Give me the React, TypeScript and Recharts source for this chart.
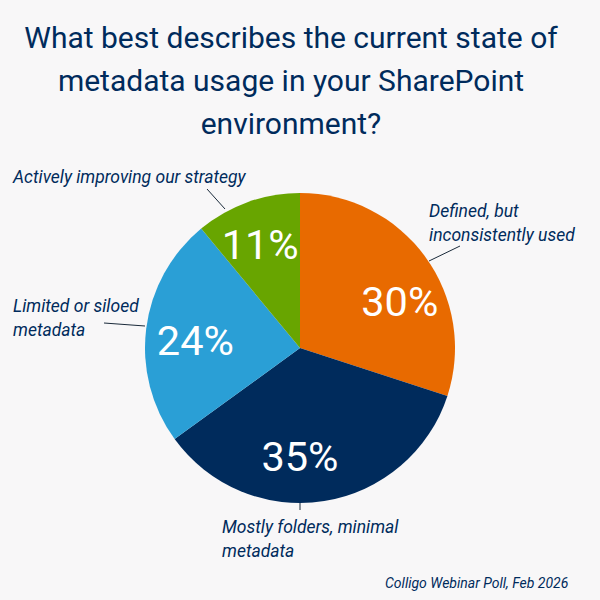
import React from 'react';
import { PieChart, Pie, Cell, Customized } from 'recharts';

const categories = ['Defined, but inconsistently used', 'Mostly folders, minimal metadata', 'Limited or siloed metadata', 'Actively improving our strategy'];
const shares = [30, 35, 24, 11];
const colors = ['#e86a00', '#002b5c', '#2a9fd6', '#68a500'];
const titleLines = ['What best describes the current state of', 'metadata usage in your SharePoint', 'environment?'];

const navy = '#002b5c';
const font = 'Roboto, sans-serif';
const data = categories.map((name, i) => ({ name, value: shares[i] }));

// annotation labels sit by hand around the pie
const notes = [
  { lines: ['Defined, but', 'inconsistently used'], x: 429, y: 217, from: [429, 261], to: [460, 246] },
  { lines: ['Mostly folders, minimal', 'metadata'], x: 222, y: 533, from: [300, 485], to: [300, 510] },
  { lines: ['Limited or siloed', 'metadata'], x: 13, y: 312, from: [104, 323], to: [145, 326] },
  { lines: ['Actively improving our strategy'], x: 13, y: 183, from: [207, 189], to: [225, 209] },
];

// the percent labels were nudged off the slice middle in the original
const labelNudge = [[12, 17], [-17, 1], [3, 6], [-3, -1]];

const RADIAN = Math.PI / 180;

const renderPct = ({ cx, cy, midAngle, outerRadius, value, index }: any) => {
  const r = outerRadius * 0.7;
  const x = cx + r * Math.cos(-midAngle * RADIAN) + labelNudge[index][0];
  const y = cy + r * Math.sin(-midAngle * RADIAN) + labelNudge[index][1];
  return (
    <text x={x} y={y} fill="#fff" fontSize={41.5} fontFamily={font} textAnchor="middle" dominantBaseline="central">
      {value}%
    </text>
  );
};

const App = () => (
  <div style={{ position: 'absolute', left: 0, top: 0, width: 600, height: 600, background: '#f8f7f8' }}>
    <PieChart width={600} height={600} margin={{ top: 0, right: 0, bottom: 0, left: 0 }}>
      <Pie
        data={data}
        dataKey="value"
        cx={300}
        cy={348}
        outerRadius={155}
        startAngle={90}
        endAngle={-270}
        stroke="none"
        label={renderPct}
        labelLine={false}
        isAnimationActive={false}
      >
        {data.map((d, i) => (
          <Cell key={d.name} fill={colors[i]} />
        ))}
      </Pie>
      <Customized
        component={() => (
          <g fontFamily={font}>
            {titleLines.map((t, i) => (
              <text key={t} x={291} y={48 + i * 43} textAnchor="middle" fontSize={30} fill={navy}>
                {t}
              </text>
            ))}
            {notes.map((n) => (
              <g key={n.x + '-' + n.y}>
                <line x1={n.from[0]} y1={n.from[1]} x2={n.to[0]} y2={n.to[1]} stroke="#1a2a3a" strokeWidth={1} />
                {n.lines.map((l, i) => (
                  <text key={l} x={n.x} y={n.y + i * 24} fontSize={17.5} fontStyle="italic" fill={navy}>
                    {l}
                  </text>
                ))}
              </g>
            ))}
            <text x={385} y={588} fontSize={14} fontStyle="italic" fill={navy}>
              Colligo Webinar Poll, Feb 2026
            </text>
          </g>
        )}
      />
    </PieChart>
  </div>
);

export default App;
